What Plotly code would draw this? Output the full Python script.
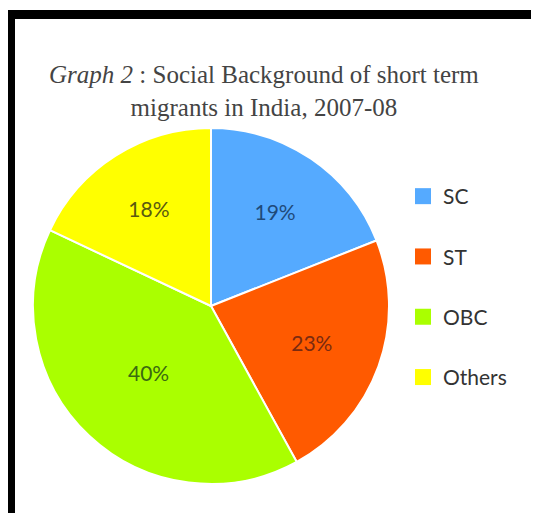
import plotly.graph_objects as go

categories = ["SC", "ST", "OBC", "Others"]
shares = [19, 23, 40, 18]
slice_colors = ["#55AAFF", "#FF5A00", "#AAFF00", "#FFFF00"]
label_colors = ["#1F4A7A", "#7A2A10", "#3A6A10", "#5A5A10"]

W, H = 531, 505
OFF = 8  # page body margin


def px(x):
    return (x - OFF) / W


def py(y):
    return 1 - (y - OFF) / H


fig = go.Figure()
fig.add_trace(go.Pie(
    labels=categories,
    values=shares,
    sort=False,
    direction="clockwise",
    rotation=0,
    marker=dict(colors=slice_colors, line=dict(color="white", width=2)),
    texttemplate="%{value}%",
    textposition="inside",
    insidetextorientation="horizontal",
    textfont=dict(family="Lato", size=21, color=label_colors),
    showlegend=False,
    domain=dict(x=[px(33), px(389)], y=[py(484), py(128)]),
))

for cat, col in zip(categories, slice_colors):
    fig.add_trace(go.Scatter(
        x=[None], y=[None], mode="markers", name=cat,
        marker=dict(symbol="square", size=16, color=col),
        legendgroup=cat, showlegend=True,
    ))

fig.update_layout(
    width=W, height=H,
    margin=dict(l=0, r=0, t=0, b=0),
    paper_bgcolor="white", plot_bgcolor="white",
    xaxis=dict(visible=False), yaxis=dict(visible=False),
    annotations=[dict(
        text="<i>Graph 2</i> : Social Background of short term<br>migrants in India, 2007-08",
        xref="paper", yref="paper", x=px(264), y=py(91),
        xanchor="center", yanchor="middle", showarrow=False,
        font=dict(family="Liberation Serif", size=25, color="#444444"),
    )],
    legend=dict(
        x=px(403), xanchor="left", y=py(176), yanchor="top",
        font=dict(family="Lato", size=21, color="#333333"),
        tracegroupgap=30, bgcolor="rgba(0,0,0,0)",
    ),
    shapes=[
        dict(type="rect", xref="paper", yref="paper", x0=0, x1=1.0,
             y0=py(19), y1=py(10), fillcolor="black", line=dict(width=0)),
        dict(type="rect", xref="paper", yref="paper", x0=0, x1=px(15),
             y0=0, y1=py(10), fillcolor="black", line=dict(width=0)),
    ],
)

fig.write_html("out.html")
